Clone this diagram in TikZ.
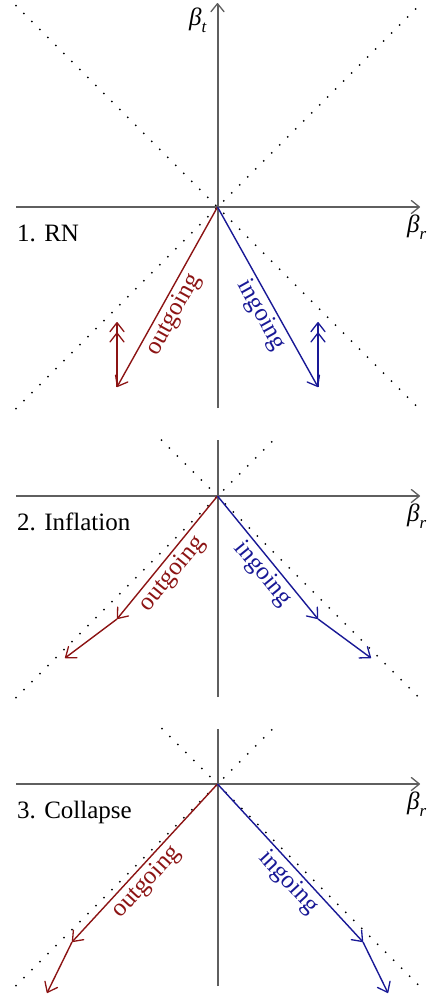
\documentclass[tikz,border=0pt]{standalone}
\usepackage{fontspec}
\setmainfont{Liberation Serif}
\usetikzlibrary{arrows.meta}
\definecolor{outc}{RGB}{140,20,20}
\definecolor{inc}{RGB}{25,25,150}
\definecolor{axc}{RGB}{95,95,95}
\newcommand{\betasub}[1]{\textit{β}\raisebox{-0.28em}{\fontsize{17}{17}\selectfont\textit{#1}}}
\tikzset{
  rtip/.tip={Straight Barb[length=9pt,width=14pt,line width=1.3pt,round]},
  atip/.tip={Straight Barb[length=8pt,width=13pt,line width=1.3pt,round]}
}
\begin{document}
\begin{tikzpicture}[x=1pt,y=-1pt,
  txt/.style={font=\fontsize{25}{29}\selectfont, inner sep=0pt},
  axisline/.style={axc, line width=2pt},
  axtip/.style={-{atip}},
  lightline/.style={black, line width=2pt, line cap=round, dash pattern=on 0pt off 11.3pt},
  outray/.style={outc, line width=1.4pt, -{rtip}},
  inray/.style={inc, line width=1.4pt, -{rtip}},
  dbltip/.style={line width=1.4pt, -{rtip[sep=0pt] rtip}},
  lab/.style={font=\fontsize{25}{29}\selectfont, sloped, below, inner sep=3pt, pos=0.56}]
\useasboundingbox (0,0) rectangle (438,996);

% ---------- Panel 1 ----------
\coordinate (o1) at (217.5,207);
\coordinate (l1) at (16,207);   \coordinate (r1) at (420,207);
\coordinate (b1) at (217.5,408); \coordinate (t1) at (217.5,3);
\coordinate (d1a) at (16,408.5);  \coordinate (d1b) at (419,5.5);
\coordinate (d1c) at (16,5.5);    \coordinate (d1d) at (419,408.5);
\coordinate (a1) at (117,387);  \coordinate (c1) at (318,387);
\coordinate (u1) at (117,322);  \coordinate (w1) at (318,322);
\draw[lightline] (d1a) -- (d1b);
\draw[lightline] (d1c) -- (d1d);
\draw[axisline, axtip] (l1) -- (r1);
\draw[axisline, axtip] (b1) -- (t1);
\draw[outray] (o1) -- node[lab] (lo1) {outgoing} (a1);
\draw[inray] (o1) -- node[lab] (li1) {ingoing} (c1);
\draw[dbltip, outc] (a1) -- (u1);
\draw[dbltip, inc] (c1) -- (w1);
\node[txt, anchor=base west] (n1) at (17,241) {1. RN};
\node[txt, anchor=base west] (br1) at (407,232) {\betasub{r}};
\node[txt, anchor=base west] (bt1) at (189,25) {\betasub{t}};

% ---------- Panel 2 ----------
\coordinate (o2) at (217.5,496);
\coordinate (l2) at (16,496);   \coordinate (r2) at (420,496);
\coordinate (b2) at (217.5,697); \coordinate (t2) at (217.5,440);
\coordinate (d2a) at (16,697.5);  \coordinate (d2b) at (273.5,440);
\coordinate (d2c) at (161.5,440); \coordinate (d2d) at (419,697.5);
\coordinate (a2) at (117,619);  \coordinate (e2) at (65,658);
\coordinate (c2) at (318,619);  \coordinate (f2) at (371,658);
\draw[lightline] (d2a) -- (d2b);
\draw[lightline] (d2c) -- (d2d);
\draw[axisline, axtip] (l2) -- (r2);
\draw[axisline] (b2) -- (t2);
\draw[outray] (o2) -- node[lab] (lo2) {outgoing} (a2);
\draw[outray] (a2) -- (e2);
\draw[inray] (o2) -- node[lab] (li2) {ingoing} (c2);
\draw[inray] (c2) -- (f2);
\node[txt, anchor=base west] (n2) at (17,530) {2. Inflation};
\node[txt, anchor=base west] (br2) at (407,521) {\betasub{r}};

% ---------- Panel 3 ----------
\coordinate (o3) at (217.5,784);
\coordinate (l3) at (16,784);   \coordinate (r3) at (420,784);
\coordinate (b3) at (217.5,986); \coordinate (t3) at (217.5,729);
\coordinate (d3a) at (16,985.5);  \coordinate (d3b) at (273,728.5);
\coordinate (d3c) at (162,728.5); \coordinate (d3d) at (419,985.5);
\coordinate (a3) at (72,942);   \coordinate (e3) at (47,993);
\coordinate (c3) at (363,942);  \coordinate (f3) at (388,993);
\draw[lightline] (d3a) -- (d3b);
\draw[lightline] (d3c) -- (d3d);
\draw[axisline, axtip] (l3) -- (r3);
\draw[axisline] (b3) -- (t3);
\draw[outray] (o3) -- node[lab] (lo3) {outgoing} (a3);
\draw[outray] (a3) -- (e3);
\draw[inray] (o3) -- node[lab] (li3) {ingoing} (c3);
\draw[inray] (c3) -- (f3);
\node[txt, anchor=base west] (n3) at (17,818) {3. Collapse};
\node[txt, anchor=base west] (br3) at (407,809) {\betasub{r}};
\end{tikzpicture}
\end{document}
